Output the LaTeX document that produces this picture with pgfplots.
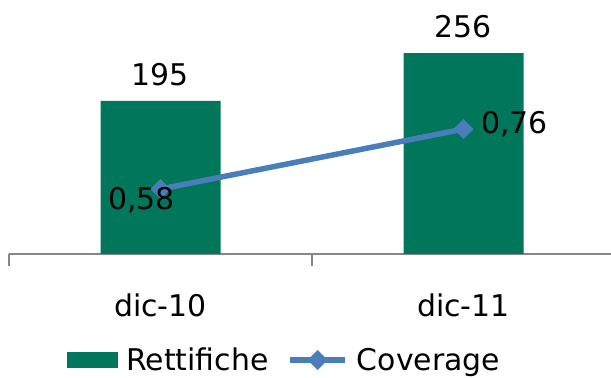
\documentclass[border=0pt]{standalone}
\usepackage{pgfplots}
\pgfplotsset{compat=1.18}
\usepackage{fontspec}
\setmainfont{DejaVu Sans}
\definecolor{barcol}{RGB}{0,118,90}
\definecolor{linecol}{RGB}{74,126,187}
\definecolor{axcol}{RGB}{134,134,134}

\begin{document}
\begin{tikzpicture}[font=\fontsize{30}{36}\selectfont]
\path[use as bounding box] (0,0) rectangle (611bp,378bp);
% primary axis: Rettifiche bars
\begin{axis}[
  at={(9bp,124bp)}, anchor=south west,
  scale only axis, width=606bp, height=235.5bp,
  xmin=-0.5, xmax=1.5, ymin=0, ymax=300,
  axis x line*=bottom, axis y line=none,
  x axis line style={draw=axcol, line width=1.5bp, -},
  xtick={0,1}, xticklabels={dic-10,dic-11}, major tick length=0,
  minor xtick={-0.5,0.5,1.5}, minor tick length=12bp, tick align=outside,
  minor tick style={draw=axcol, line width=1.5bp},
  xticklabel style={anchor=center, yshift=-51bp},
  ybar, bar width=120bp,
  nodes near coords,
  every node near coord/.append style={anchor=center, yshift=26bp, black},
  /pgf/number format/assume math mode=true,
  clip=false,
]
\addplot[fill=barcol, draw=none] coordinates {(0,195) (1,256)};
\end{axis}
% secondary axis: Coverage line
\begin{axis}[
  at={(9bp,124bp)}, anchor=south west,
  scale only axis, width=606bp, height=235.5bp,
  xmin=-0.5, xmax=1.5, ymin=0.385, ymax=1.092,
  hide axis, clip=false,
  /pgf/number format/.cd, use comma, fixed, fixed zerofill, precision=2, assume math mode=true,
  /pgfplots/.cd,
  legend style={at={(0.453,-0.450)}, anchor=center, draw=none, fill=none,
    inner sep=0pt, nodes={inner sep=0pt},
    /tikz/every odd column/.append style={column sep=9bp},
    /tikz/every even column/.append style={column sep=19bp}},
  legend columns=2,
]
\addlegendimage{legend image code/.code={\fill[barcol] (0bp,-7.5bp) rectangle (50bp,7.5bp);}}
\addlegendentry{Rettifiche}
\addplot[linecol, line width=5.5bp, mark=square*, mark size=6.8bp,
  mark options={rotate=45, line width=0.5bp},
  legend image code/.code={\draw[mark repeat=2, mark phase=2] plot coordinates {(0bp,0bp) (27.5bp,0bp) (55bp,0bp)};}]
  coordinates {(0,0.58) (1,0.76)};
\addlegendentry{Coverage}
\addplot[draw=none, forget plot, nodes near coords,
  every node near coord/.append style={anchor=center, xshift=-19bp, yshift=-11bp, black}]
  coordinates {(0,0.58)};
\addplot[draw=none, forget plot, nodes near coords,
  every node near coord/.append style={anchor=center, xshift=51bp, yshift=4.5bp, black}]
  coordinates {(1,0.76)};
\end{axis}
\end{tikzpicture}
\end{document}
